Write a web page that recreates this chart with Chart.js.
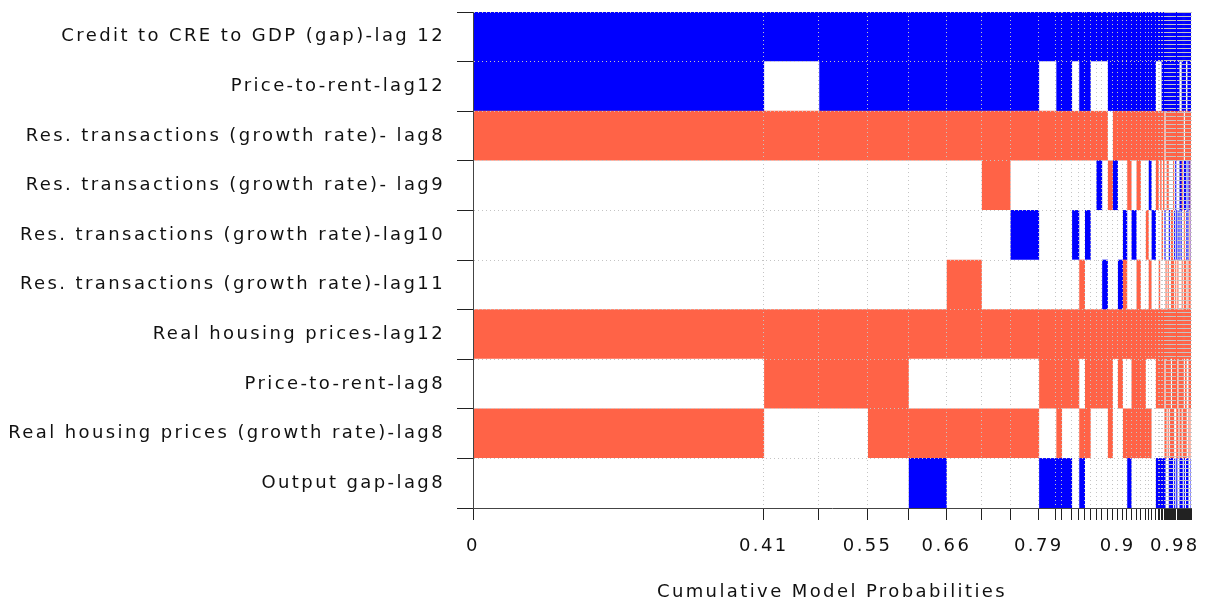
<!DOCTYPE html>
<html>
<head>
<meta charset="utf-8">
<script src="https://cdn.jsdelivr.net/npm/chart.js@4.4.1/dist/chart.umd.min.js"></script>
<style>
  html, body { margin: 0; padding: 0; background: #fff; }
  #wrap { width: 1207px; height: 601px; }
</style>
</head>
<body>
<div id="wrap"><canvas id="bma-chart"></canvas></div>
<script>
// variables, top to bottom
const variables = [
  'Credit to CRE to GDP (gap)-lag 12',
  'Price-to-rent-lag12',
  'Res. transactions (growth rate)- lag8',
  'Res. transactions (growth rate)- lag9',
  'Res. transactions (growth rate)-lag10',
  'Res. transactions (growth rate)-lag11',
  'Real housing prices-lag12',
  'Price-to-rent-lag8',
  'Real housing prices (growth rate)-lag8',
  'Output gap-lag8'
];

// posterior model probabilities, best model first
const modelProbs = [
  0.406, 0.077, 0.068, 0.057, 0.053, 0.049, 0.040, 0.040,
  0.024, 0.008, 0.014, 0.010, 0.008, 0.008, 0.008, 0.008, 0.008, 0.007, 0.007,
  0.007, 0.006, 0.006, 0.007, 0.006, 0.007, 0.004, 0.004, 0.006, 0.004,
  0.002, 0.002, 0.002, 0.002,
  0.0015, 0.0015, 0.0015, 0.0015, 0.0015, 0.0015, 0.0015, 0.0015, 0.0015, 0.0015,
  0.0015, 0.0015, 0.0015, 0.0015, 0.0015, 0.0015, 0.0015, 0.0015, 0.0015, 0.0015,
  0.001, 0.001, 0.0015, 0.0015, 0.001, 0.0005, 0.0005, 0.0005
];

// one string per variable, one char per model: + positive, - negative, 0 not in model
const inclusion = [
  '++++++++ +++++++++++ ++++++++++ ++++ ++++ ++++ ++++ ++++ ++++ ++++ ++++',
  '+0++++++ 0++0++000++ +++++++++0 00++ ++++ ++++ ++++ ++00 ++++ 00++ ++++',
  '-------- ---------0- ---------- ---- 0--- ---- ---- ---- --0- ---- ----',
  '000000-0 0000000+0-+ 00-0-00+0- 0-0- 00-- 0000 -0+0 00++ -0++ 0+0+ -0++',
  '0000000+ 000+0+00000 0+0+00-0+0 00-0 +000 +0-- 0+0+ 0+0+ 00-0 +0+0 -0++',
  '00000-00 0000-000+00 +-00-00-00 -000 0-0- 00-- -0-0 -000 -0-- 0-0- --0-',
  '-------- ----------- ---------- ---- ---- ---- ---- ---- ---- ---- ----',
  '0---0000 ----0-----0 -00---000- ---- 0--- --0- ---- 0--- --0- -00- ----',
  '-00----- 0-00--000-0 0-------00 0000 --0- 0--- -00- -0-- 0--- -00- 0-0-',
  '0000+000 +++0+000000 00+000000+ ++++ +000 ++++ 0+0+ 00++ +0+0 +++0 0+0+'
].map(s => s.replace(/ /g, ''));

// boundaries (number of models so far) that get a cumulative probability label
const labeledTicks = [0, 1, 3, 5, 8, 19, 43];

const signColor = { '+': '#0000ff', '-': 'tomato', '0': '#ffffff' };

let cum = [0];
modelProbs.forEach(p => cum.push(cum[cum.length - 1] + p));
const total = cum[cum.length - 1];

const datasets = modelProbs.map((p, j) => ({
  data: variables.map(() => p),
  backgroundColor: inclusion.map(s => signColor[s[j]]),
  borderWidth: 0,
  barPercentage: 1,
  categoryPercentage: 1
}));

//------------------------- text spacing ---------------------------------
const wideText = {
  id: 'wideText',
  beforeDraw(chart) { chart.ctx.letterSpacing = '2.4px'; },
  afterDraw(chart) { chart.ctx.letterSpacing = '0px'; }
};

const font = { family: "'DejaVu Sans', sans-serif", size: 18 };

let ctx = document.getElementById('bma-chart').getContext('2d');
let myChart = new Chart(ctx, {
  type: 'bar',
  data: { labels: variables, datasets: datasets },
  plugins: [wideText],
  options: {
    indexAxis: 'y',
    responsive: true,
    maintainAspectRatio: false,
    animation: false,
    layout: { padding: { top: 12, right: 16, left: 0, bottom: 0 } },
    plugins: { legend: { display: false }, tooltip: { enabled: false } },
    scales: {
      x: {
        type: 'linear',
        stacked: true,
        min: 0,
        max: total,
        afterBuildTicks: s => { s.ticks = cum.map(v => ({ value: v })); },
        afterFit: s => { s.height = 93; s.paddingLeft = 0; s.paddingRight = 0; },
        ticks: {
          autoSkip: false,
          maxRotation: 0,
          minRotation: 0,
          padding: 16,
          color: '#111',
          font: font,
          callback: (v, i) => labeledTicks.includes(i) ? String(+cum[i].toFixed(2)) : ''
        },
        grid: {
          z: 1,
          color: '#c4c4c4',
          lineWidth: 1,
          tickLength: 12,
          tickColor: '#222',
          tickWidth: 1
        },
        border: { display: true, color: '#444', width: 1, dash: [1, 3], z: 2 },
        title: {
          display: true,
          text: 'Cumulative Model Probabilities',
          color: '#111',
          font: { family: font.family, size: 18, lineHeight: 1 },
          padding: { top: 0, bottom: 0 }
        }
      },
      y: {
        type: 'category',
        stacked: true,
        afterFit: s => { s.width = 473; s.paddingTop = 0; s.paddingBottom = 0; },
        ticks: { padding: 12, color: '#111', font: font },
        grid: {
          z: 1,
          offset: true,
          color: '#c4c4c4',
          lineWidth: 1,
          tickLength: 16,
          tickColor: '#222',
          tickWidth: 1
        },
        border: { display: true, color: '#444', width: 1, dash: [1, 3], z: 2 }
      }
    }
  }
});
</script>
</body>
</html>
